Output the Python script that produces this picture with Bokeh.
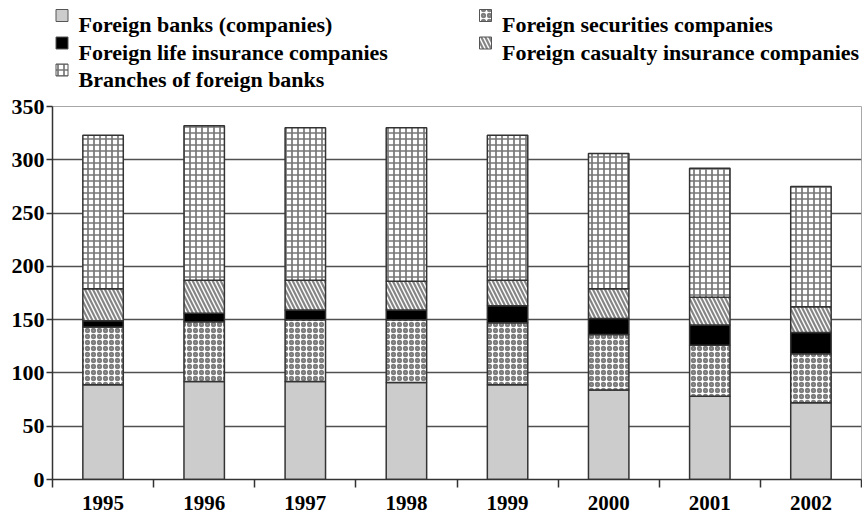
import numpy as np
from bokeh.plotting import figure
from bokeh.layouts import column
from bokeh.models import (Range1d, FixedTicker, NumeralTickFormatter, ColumnDataSource,
                          LinearAxis, Grid)
from bokeh.core.properties import value
from bokeh.embed import file_html
from bokeh.resources import INLINE

# ---------------- data ----------------
years = [1995, 1996, 1997, 1998, 1999, 2000, 2001, 2002]
series_names = [
    "Foreign banks (companies)",
    "Foreign securities companies",
    "Foreign life insurance companies",
    "Foreign casualty insurance companies",
    "Branches of foreign banks",
]
banks = [89, 92, 92, 91, 89, 84, 78, 72]
securities = [54, 56, 58, 59, 58, 52, 48, 46]
life = [6, 8, 9, 9, 16, 15, 19, 20]
casualty = [30, 31, 28, 27, 24, 28, 26, 24]
branches = [144, 145, 143, 144, 136, 127, 121, 113]
y_ticks = [0, 50, 100, 150, 200, 250, 300, 350]

styles = [
    dict(fill_color="#cccccc"),
    dict(fill_color="white", hatch_pattern="ring", hatch_color="#7e7e7e", hatch_scale=6, hatch_weight=2.3),
    dict(fill_color="black"),
    dict(fill_color="white", hatch_pattern="left_diagonal_line", hatch_color="#858585", hatch_scale=8, hatch_weight=2.2),
    dict(fill_color="white", hatch_pattern="cross", hatch_color="#777777", hatch_scale=6, hatch_weight=1.7),
]

FONT = value("Liberation Serif")
PW, LH, MH = 862, 93, 432
FL, FR = 52, 1  # frame borders (left/right) shared by both figures

# ---------------- legend figure ----------------
leg = figure(width=PW, height=LH, x_range=Range1d(FL, PW - FR), y_range=Range1d(LH, 0),
             output_backend="svg", toolbar_location=None,
             min_border_left=FL, min_border_right=FR, min_border_top=0, min_border_bottom=0,
             x_axis_location=None, y_axis_location=None)
leg.outline_line_color = None
leg.xgrid.visible = False
leg.ygrid.visible = False

icon_x = [61.5, 485.0, 61.5, 485.0, 61.5]
icon_y = [15.0, 15.0, 42.5, 42.5, 69.5]
for i, st in enumerate(styles):
    leg.rect(x=[icon_x[i]], y=[icon_y[i]], width=12, height=12,
             line_color="#555555", line_width=1, **st)
leg.text(x=[ix + 16.5 for ix in icon_x], y=[iy + 9 for iy in icon_y], text=series_names,
         text_font=FONT, text_font_style="bold", text_font_size="22px",
         text_baseline="alphabetic", text_align="left", text_color="black")

# ---------------- main figure ----------------
p = figure(width=PW, height=MH, x_range=Range1d(years[0] - 0.5, years[-1] + 0.5),
           y_range=Range1d(0, 350), output_backend="svg", toolbar_location=None,
           x_axis_location=None, y_axis_location=None,
           min_border_left=FL, min_border_right=FR, min_border_top=13, min_border_bottom=46)

layers = [banks, securities, life, casualty, branches]
bottom = np.zeros(len(years))
for vals, st in zip(layers, styles):
    top = bottom + np.array(vals, dtype=float)
    src = ColumnDataSource(dict(x=years, bottom=bottom.copy(), top=top))
    p.vbar(x="x", bottom="bottom", top="top", width=0.4, source=src,
           line_color="#333333", line_width=1.5, **st)
    bottom = top

p.outline_line_color = "#a8a8a8"
p.outline_line_width = 1

yaxis = LinearAxis(
    ticker=FixedTicker(ticks=y_ticks),
    axis_line_color="#333333", axis_line_width=1.5,
    major_tick_out=6, major_tick_in=0,
    major_tick_line_color="#333333", major_tick_line_width=1.5,
    minor_tick_line_color=None,
    major_label_standoff=2,
    major_label_text_font="Liberation Serif",
    major_label_text_font_style="bold",
    major_label_text_font_size="22px",
    major_label_text_color="black",
)
p.add_layout(yaxis, "left")

boundaries = [y - 0.5 for y in years] + [years[-1] + 0.5]
xaxis = LinearAxis(
    ticker=FixedTicker(ticks=years, minor_ticks=boundaries),
    formatter=NumeralTickFormatter(format="0"),
    axis_line_color="#333333", axis_line_width=1.5,
    major_tick_line_color=None, major_tick_out=8, major_tick_in=0,
    minor_tick_out=8, minor_tick_in=0,
    minor_tick_line_color="#333333", minor_tick_line_width=1.5,
    major_label_standoff=8,
    major_label_text_font="Liberation Serif",
    major_label_text_font_style="bold",
    major_label_text_font_size="21px",
    major_label_text_color="black",
)
p.add_layout(xaxis, "below")

p.xgrid.visible = False
p.ygrid.visible = False
p.add_layout(Grid(dimension=1, ticker=FixedTicker(ticks=y_ticks[1:-1]),
                  grid_line_color="#505050", grid_line_width=1.5))

layout = column(leg, p)
open("out.html", "w").write(file_html(layout, INLINE))
